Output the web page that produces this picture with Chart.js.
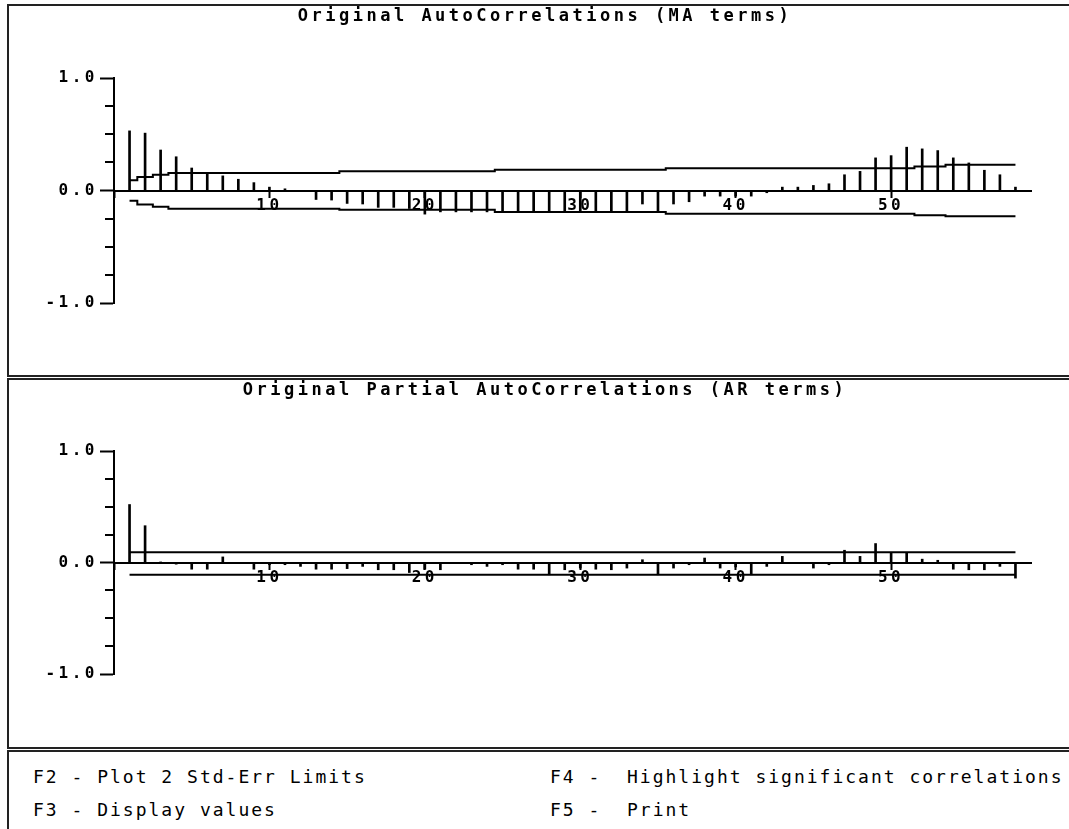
<!DOCTYPE html>
<html>
<head>
<meta charset="utf-8">
<script src="https://cdn.jsdelivr.net/npm/chart.js@4.4.1/dist/chart.umd.min.js"></script>
<style>
  html, body { margin: 0; padding: 0; background: #fff; overflow: hidden; width: 1069px; height: 829px; }
  .panel { position: absolute; left: 7px; width: 1100px; box-sizing: border-box; border: 2px solid #222; }
  #p1 { top: 4px; height: 373px; }
  #p2 { top: 378px; height: 371px; }
  #p3 { top: 750px; height: 100px; }
  canvas { position: absolute; left: 0; }
  #acf { top: 0; }
  #pacf { top: 373px; }
  .key { position: absolute; font-family: "DejaVu Sans Mono", monospace; font-size: 18px; letter-spacing: 2px;
         white-space: pre; color: #000; line-height: 20px; }
</style>
</head>
<body>
<div class="panel" id="p1"></div>
<div class="panel" id="p2"></div>
<div class="panel" id="p3"></div>
<canvas id="acf" width="1090" height="374"></canvas>
<canvas id="pacf" width="1090" height="374"></canvas>
<div class="key" style="left:33px;top:767px">F2 - Plot 2 Std-Err Limits</div>
<div class="key" style="left:33px;top:800px">F3 - Display values</div>
<div class="key" style="left:550px;top:767px">F4 -  Highlight significant correlations</div>
<div class="key" style="left:550px;top:800px">F5 -  Print</div>
<script>
// lags 1..58
const lags = [1, 2, 3, 4, 5, 6, 7, 8, 9, 10, 11, 12, 13, 14, 15, 16, 17, 18, 19, 20,
  21, 22, 23, 24, 25, 26, 27, 28, 29, 30, 31, 32, 33, 34, 35, 36, 37, 38, 39, 40,
  41, 42, 43, 44, 45, 46, 47, 48, 49, 50, 51, 52, 53, 54, 55, 56, 57, 58];

// autocorrelations (MA terms)
const acf = [0.53, 0.51, 0.36, 0.30, 0.20, 0.15, 0.13, 0.10, 0.07, 0.03,
  0.015, -0.01, -0.08, -0.085, -0.115, -0.12, -0.15, -0.15, -0.16, -0.21,
  -0.19, -0.19, -0.19, -0.19, -0.18, -0.18, -0.18, -0.18, -0.19, -0.19,
  -0.18, -0.18, -0.18, -0.12, -0.18, -0.12, -0.10, -0.05, -0.05, -0.05,
  -0.05, -0.02, 0.03, 0.03, 0.045, 0.06, 0.14, 0.17, 0.29, 0.31,
  0.385, 0.37, 0.355, 0.29, 0.245, 0.18, 0.14, 0.03];

// 2 std-err limits for the acf
const acfUpper = [0.092, 0.12, 0.14, 0.156, 0.156, 0.156, 0.156, 0.156, 0.156, 0.156,
  0.156, 0.156, 0.156, 0.156, 0.172, 0.172, 0.172, 0.172, 0.172, 0.172,
  0.172, 0.172, 0.172, 0.172, 0.185, 0.185, 0.185, 0.185, 0.185, 0.185,
  0.185, 0.185, 0.185, 0.185, 0.185, 0.198, 0.198, 0.198, 0.198, 0.198,
  0.198, 0.198, 0.198, 0.198, 0.198, 0.198, 0.198, 0.198, 0.198, 0.198,
  0.198, 0.213, 0.213, 0.228, 0.228, 0.228, 0.228, 0.228];
const acfLower = [-0.092, -0.125, -0.145, -0.162, -0.162, -0.162, -0.162, -0.162, -0.162, -0.162,
  -0.162, -0.162, -0.162, -0.162, -0.172, -0.172, -0.172, -0.172, -0.172, -0.172,
  -0.172, -0.172, -0.172, -0.172, -0.192, -0.192, -0.192, -0.192, -0.192, -0.192,
  -0.192, -0.192, -0.192, -0.192, -0.192, -0.206, -0.206, -0.206, -0.206, -0.206,
  -0.206, -0.206, -0.206, -0.206, -0.206, -0.206, -0.206, -0.206, -0.206, -0.206,
  -0.206, -0.219, -0.219, -0.228, -0.228, -0.228, -0.228, -0.228];

// partial autocorrelations (AR terms)
const pacf = [0.52, 0.33, 0.005, -0.015, -0.06, -0.06, 0.05, 0.0, -0.06, -0.02,
  -0.02, -0.035, -0.06, -0.06, -0.055, -0.035, -0.065, -0.065, -0.09, -0.06,
  -0.065, 0.0, -0.02, -0.035, -0.02, -0.06, -0.06, -0.11, -0.065, -0.05,
  -0.06, -0.065, -0.05, 0.025, -0.11, -0.05, -0.02, 0.04, -0.05, -0.04,
  -0.11, -0.035, 0.055, 0.0, -0.05, -0.02, 0.11, 0.055, 0.17, 0.09,
  0.09, 0.03, 0.02, -0.06, -0.065, -0.065, -0.035, -0.14];

// pacf limits: flat line from first to last lag
const pacfLimitLags = [1, 58];
const pacfUpper = [0.093, 0.093];
const pacfLower = [-0.11, -0.11];

const xTicks = [0, 10, 20, 30, 40, 50];
const yTicks = [-1, 0, 1];
const yMinor = [-0.75, -0.5, -0.25, 0.25, 0.5, 0.75];

const pts = (xs, ys) => xs.map((x, i) => ({ x: x, y: ys[i] }));

// wide DOS-style lettering
const spacing = {
  id: 'spacing',
  beforeLayout(chart) { chart.ctx.letterSpacing = '3.5px'; },
  beforeDraw(chart) { chart.ctx.letterSpacing = '3.5px'; }
};

// short minor ticks on the y axis
const minorTicks = {
  id: 'minorTicks',
  afterDraw(chart) {
    const y = chart.scales.y, ctx = chart.ctx;
    ctx.save();
    ctx.strokeStyle = '#000';
    ctx.lineWidth = 2;
    yMinor.forEach(v => {
      const py = Math.round(y.getPixelForValue(v));
      ctx.beginPath();
      ctx.moveTo(y.right - 9, py);
      ctx.lineTo(y.right, py);
      ctx.stroke();
    });
    ctx.restore();
  }
};

const monoBold = size => ({ family: '"DejaVu Sans Mono", monospace', size: size, weight: 'bold' });

function makeChart(id, title, vals, limits, stepped, bottomPad, titleTop) {
  const datasets = [{
    type: 'bar',
    data: pts(lags, vals),
    backgroundColor: '#000',
    borderWidth: 0,
    barThickness: 2
  }];
  limits.forEach(l => datasets.push({
    type: 'line',
    data: l,
    borderColor: '#000',
    borderWidth: 2,
    pointRadius: 0,
    stepped: stepped ? 'middle' : false,
    fill: false
  }));

  return new Chart(document.getElementById(id), {
    data: { datasets: datasets },
    plugins: [spacing, minorTicks],
    options: {
      responsive: false,
      animation: false,
      events: [],
      layout: { padding: { top: 0, left: 0, right: 0, bottom: bottomPad } },
      plugins: {
        legend: { display: false },
        tooltip: { enabled: false },
        title: {
          display: true,
          text: title,
          color: '#000',
          font: monoBold(17),
          padding: { top: titleTop, bottom: 78 - titleTop - 20.4 }
        }
      },
      scales: {
        x: {
          type: 'linear',
          min: 0,
          max: 59,
          offset: false,
          position: { y: 0 },
          afterBuildTicks: s => { s.ticks = xTicks.map(v => ({ value: v })); },
          ticks: {
            color: '#000',
            font: monoBold(16),
            padding: 0,
            maxRotation: 0,
            callback: v => (v === 0 ? '' : String(v))
          },
          grid: { drawOnChartArea: false, offset: false, tickLength: 6, tickWidth: 2, tickColor: '#000' },
          border: { display: true, color: '#000', width: 2 }
        },
        y: {
          type: 'linear',
          min: -1,
          max: 1,
          afterBuildTicks: s => { s.ticks = yTicks.map(v => ({ value: v })); },
          afterFit: s => { s.width = 114; },
          ticks: {
            color: '#000',
            font: monoBold(16),
            padding: 2,
            callback: v => v.toFixed(1)
          },
          grid: { drawOnChartArea: false, tickLength: 14, tickWidth: 2, tickColor: '#000' },
          border: { display: true, color: '#000', width: 2 }
        },
        // empty right-hand strip so the plot ends short of the panel edge
        // while the title stays centred on the whole panel
        pad: {
          type: 'linear',
          position: 'right',
          grid: { display: false },
          border: { display: false },
          ticks: { display: false },
          afterFit: s => { s.width = 59; }
        }
      }
    }
  });
}

makeChart('acf', 'Original AutoCorrelations (MA terms)', acf,
  [pts(lags, acfUpper), pts(lags, acfLower)], true, 71, 6);
makeChart('pacf', 'Original Partial AutoCorrelations (AR terms)', pacf,
  [pts(pacfLimitLags, pacfUpper), pts(pacfLimitLags, pacfLower)], false, 73, 7);
</script>
</body>
</html>
